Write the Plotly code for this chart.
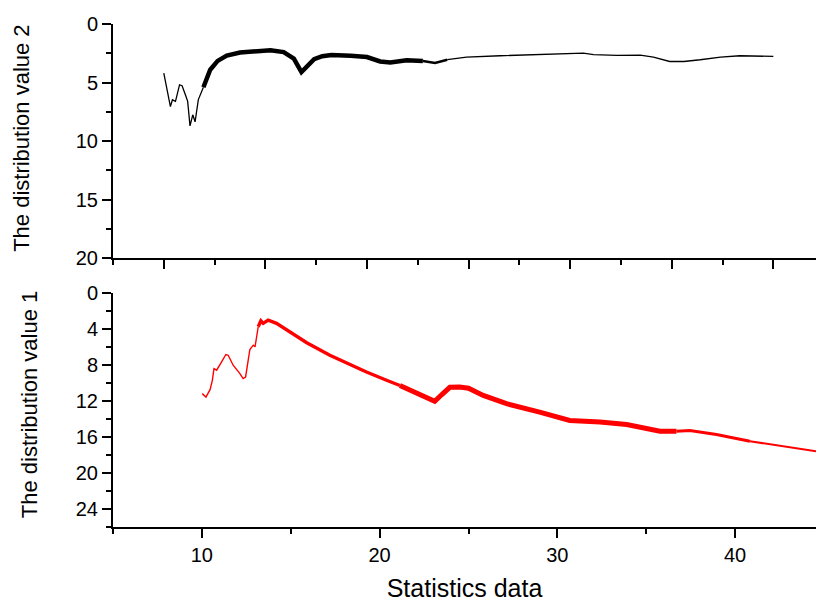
import plotly.graph_objects as go

# ---- data ----
# top panel (distribution value 2), x in the top panel's own axis units
top_x = [10.0, 10.3, 10.65, 10.85, 11.15, 11.55, 11.8, 12.15, 12.35, 12.58,
         12.85, 13.08, 13.4, 13.9, 14.57, 15.3, 16.2, 17.5, 19.2, 20.5,
         21.8, 22.8, 23.55, 24.1, 24.8, 25.6, 26.5, 28.4, 30.0, 31.3,
         32.3, 33.9, 35.5, 36.7, 37.9, 39.8, 43.1, 46.4, 49.0, 51.3,
         52.3, 54.6, 56.9, 58.2, 59.8, 61.2, 62.8, 64.8, 66.7, 68.7, 70.0]
top_v = [4.2, 5.6, 7.05, 6.47, 6.6, 5.2, 5.27, 6.1, 6.6, 8.7,
         7.75, 8.35, 6.45, 5.4, 3.9, 3.15, 2.7, 2.43, 2.34, 2.24,
         2.4, 2.95, 4.1, 3.6, 3.0, 2.75, 2.65, 2.72, 2.82, 3.2,
         3.28, 3.1, 3.16, 3.33, 3.05, 2.82, 2.71, 2.62, 2.54, 2.48,
         2.62, 2.68, 2.65, 2.82, 3.2, 3.2, 3.05, 2.82, 2.71, 2.71, 2.77]

# bottom panel (distribution value 1)
bot_x = [10.02, 10.23, 10.46, 10.59, 10.68, 10.83, 11.11, 11.35, 11.48, 11.76,
         12.14, 12.32, 12.46, 12.7, 12.89, 12.99, 13.17, 13.32, 13.45, 13.73,
         14.2, 14.77, 15.4, 15.9, 17.2, 18.14, 19.26, 20.39, 21.14, 21.9,
         22.83, 23.1, 23.5, 23.95, 24.5, 25.0, 25.83, 27.14, 29.0, 30.7,
         32.4, 33.9, 35.77, 36.7, 37.45, 38.95, 40.83, 42.7, 44.55]
bot_v = [11.2, 11.58, 10.76, 9.72, 8.42, 8.6, 7.68, 6.86, 6.94, 8.05,
         8.98, 9.53, 9.35, 6.3, 5.82, 6.0, 3.78, 3.12, 3.4, 3.04,
         3.4, 4.15, 4.9, 5.56, 6.94, 7.79, 8.8, 9.72, 10.3, 11.0,
         11.87, 12.05, 11.3, 10.5, 10.47, 10.6, 11.4, 12.32, 13.25, 14.18,
         14.36, 14.62, 15.37, 15.37, 15.29, 15.74, 16.48, 17.07, 17.6]

x_title = "Statistics data"
y_title_top = "The distribution value 2"
y_title_bot = "The distribution value 1"

# ---- styles (line widths per x-range segment, emulating the noise band) ----
top_segments = [(10.0, 13.9, 1.3), (13.9, 35.5, 4.5), (35.5, 37.9, 2.6), (37.9, 70.0, 1.3)]
bot_segments = [(10.02, 13.17, 1.4), (13.17, 21.14, 3.4), (21.14, 36.7, 5.0),
                (36.7, 40.83, 3.0), (40.83, 44.55, 2.0)]

fig = go.Figure()


def add_segments(xs, vs, segs, color, xa, ya):
    for lo, hi, w in segs:
        sx = [x for x in xs if lo <= x <= hi]
        sv = [v for x, v in zip(xs, vs) if lo <= x <= hi]
        fig.add_trace(go.Scatter(x=sx, y=sv, mode="lines", xaxis=xa, yaxis=ya,
                                 line=dict(color=color, width=w),
                                 showlegend=False, hoverinfo="skip"))


add_segments(top_x, top_v, top_segments, "black", "x", "y")
add_segments(bot_x, bot_v, bot_segments, "#ff0000", "x2", "y2")

axis_common = dict(showline=True, linewidth=2, linecolor="black", ticks="outside",
                   ticklen=9, tickwidth=2, tickcolor="black", showgrid=False,
                   zeroline=False, mirror=False,
                   tickfont=dict(family="Liberation Sans, Arial", size=20, color="black"))

fig.update_layout(
    width=816, height=602,
    margin=dict(l=113, r=0, t=24, b=75),
    plot_bgcolor="white", paper_bgcolor="white",
    font=dict(family="Liberation Sans, Arial", color="black"),
    xaxis=dict(domain=[0, 1], anchor="y", range=[5, 74.2], tick0=10, dtick=10,
               showticklabels=False,
               minor=dict(ticks="outside", dtick=5, tick0=5, ticklen=5, tickwidth=2, tickcolor="black"),
               **axis_common),
    yaxis=dict(domain=[0.5342, 1], anchor="x", range=[20, 0], tick0=0, dtick=5,
               minor=dict(ticks="outside", dtick=2.5, tick0=0, ticklen=5, tickwidth=2, tickcolor="black"),
               **axis_common),
    xaxis2=dict(domain=[0, 1], anchor="y2", range=[5, 44.55], tick0=0, dtick=10,
                minor=dict(ticks="outside", dtick=5, tick0=0, ticklen=5, tickwidth=2, tickcolor="black"),
                title=dict(text=x_title, font=dict(size=25), standoff=14),
                **axis_common),
    yaxis2=dict(domain=[0, 0.4658], anchor="x2", range=[26, 0], tick0=0, dtick=4,
                minor=dict(ticks="outside", dtick=2, tick0=0, ticklen=5, tickwidth=2, tickcolor="black"),
                **axis_common),
    annotations=[
        dict(text=y_title_top, xref="paper", yref="paper", x=-0.1294, y=0.7717,
             xanchor="center", yanchor="middle", textangle=-90, showarrow=False,
             font=dict(size=22, family="Liberation Sans, Arial", color="black")),
        dict(text=y_title_bot, xref="paper", yref="paper", x=-0.1195, y=0.2442,
             xanchor="center", yanchor="middle", textangle=-90, showarrow=False,
             font=dict(size=22, family="Liberation Sans, Arial", color="black")),
    ],
)

fig.write_html("out.html")
